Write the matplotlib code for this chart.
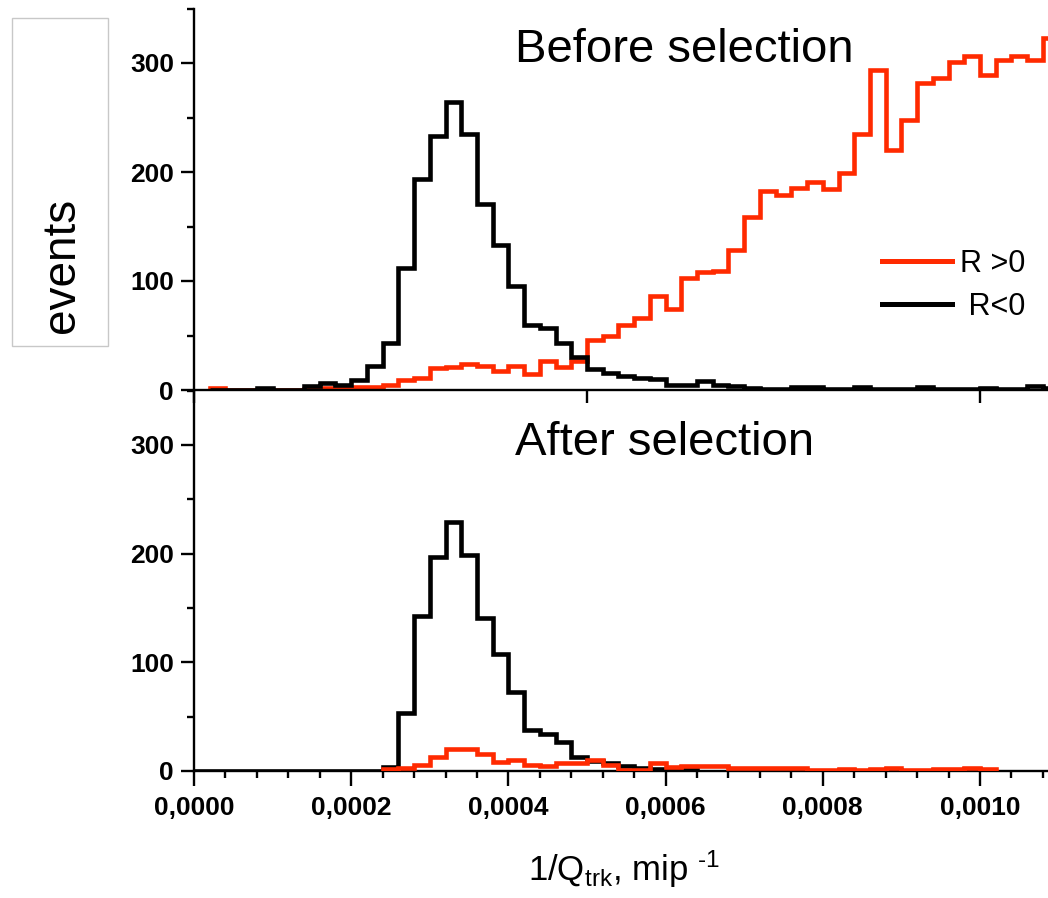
import numpy as np
import matplotlib
matplotlib.use("Agg")
import matplotlib.pyplot as plt
from matplotlib.lines import Line2D
from matplotlib.patches import Rectangle
from matplotlib.ticker import FuncFormatter, MultipleLocator, FixedLocator

plt.rcParams['font.family'] = ['Liberation Sans', 'DejaVu Sans']
plt.rcParams['mathtext.fontset'] = 'custom'
plt.rcParams['mathtext.rm'] = 'Liberation Sans'
plt.rcParams['mathtext.default'] = 'regular'

RED = '#FF2A00'
bin_width = 0.00002

# before selection, bins start at 0.00002
top_start = 0.00002
top_neg = [0, 0, 0, 2, 0, 0, 4, 6, 5, 9, 22, 43, 112, 194, 233, 264, 235, 171,
           133, 95, 60, 57, 43, 30, 19, 16, 13, 11, 10, 5, 5, 8, 5, 4, 2, 1, 1,
           3, 3, 1, 1, 3, 1, 1, 1, 3, 1, 1, 1, 2, 1, 1, 4, 2]
top_pos = [2, 0, 0, 0, 0, 0, 0.5, 1.5, 1.5, 2.5, 2.5, 4.5, 9, 11, 20, 21, 24, 22,
           17, 22, 15, 27, 21, 27, 46, 50, 60, 66, 86, 74, 103, 108, 109, 128,
           159, 183, 179, 185, 191, 184, 199, 235, 294, 220, 248, 282, 286, 301,
           306, 289, 303, 306, 303, 323]

# after selection
bot_neg_start = 0.0
bot_neg = [0, 0, 0, 0, 0, 0, 0, 0, 0, 0, 0, 0, 4, 53, 143, 197, 229, 199, 141,
           108, 73, 38, 34, 27, 13, 9, 7, 5, 2.5, 2, 1.5, 2]
bot_pos_start = 0.00024
bot_pos = [1.5, 3, 5.5, 12.6, 20, 20, 15.6, 8.6, 10, 5.5, 4.6, 7, 7, 10, 5.5, 1,
           1, 7, 4, 4.6, 4.6, 4.6, 2.4, 2.4, 2.4, 2.4, 3, 0.5, 0.5, 2, 0.5, 2,
           2.5, 0.5, 0.5, 1.8, 1.8, 2.8, 1.8]

x_ticks = [0.0, 0.0002, 0.0004, 0.0006, 0.0008, 0.0010]
y_ticks = [0, 100, 200, 300]


def edges(start, n):
    return start + bin_width * np.arange(n + 1)


W, H = 1048, 898
fig = plt.figure(figsize=(W / 100, H / 100), dpi=100)
left = 194 / W
width = 864.6 / W
ax1 = fig.add_axes([left, 1 - 390 / H, width, 381.5 / H])
ax2 = fig.add_axes([left, 1 - 771 / H, width, 380.5 / H])

lw = 3.3
ax1.stairs(top_pos, edges(top_start, len(top_pos)), color=RED, lw=lw, zorder=2)
ax1.stairs(top_neg, edges(top_start, len(top_neg)), color='black', lw=lw, zorder=3)
ax2.stairs(bot_neg, edges(bot_neg_start, len(bot_neg)), color='black', lw=lw, zorder=2)
ax2.stairs(bot_pos, edges(bot_pos_start, len(bot_pos)), color=RED, lw=lw, zorder=3)

for ax in (ax1, ax2):
    ax.set_xlim(0, 0.0011)
    ax.set_ylim(0, 350)
    ax.patch.set_alpha(0)
    for s in ('top', 'right'):
        ax.spines[s].set_visible(False)
    for s in ('left', 'bottom'):
        ax.spines[s].set_linewidth(1.7)
    ax.yaxis.set_major_locator(FixedLocator(y_ticks))
    ax.yaxis.set_minor_locator(MultipleLocator(50))
    ax.tick_params(axis='both', which='major', direction='out', length=9.5, width=1.7,
                   labelsize=19, pad=5)
    ax.tick_params(axis='both', which='minor', direction='out', length=5, width=1.7)
    for lab in ax.get_yticklabels():
        lab.set_fontweight('bold')

ax1.xaxis.set_major_locator(FixedLocator([0, 0.0005, 0.0010]))
ax1.tick_params(axis='x', labelbottom=False)

ax2.xaxis.set_major_locator(FixedLocator(x_ticks))
ax2.xaxis.set_minor_locator(MultipleLocator(0.00004))
ax2.xaxis.set_major_formatter(FuncFormatter(lambda v, p: f'{v:.4f}'.replace('.', ',')))
ax2.tick_params(axis='x', which='major', length=11, pad=7)
for lab in ax2.get_xticklabels():
    lab.set_fontweight('bold')

ax1.text((515 - 194) / 864.6, (390 - 62) / 381.5, 'Before selection', fontsize=34,
         transform=ax1.transAxes, ha='left', va='baseline')
ax2.text((515 - 194) / 864.6, (771 - 455) / 380.5, 'After selection', fontsize=34,
         transform=ax2.transAxes, ha='left', va='baseline')

handles = [Line2D([], [], color=RED, lw=3.6), Line2D([], [], color='black', lw=3.6)]
fig.legend(handles, ['R >0', ' R<0'], loc='upper left',
           bbox_to_anchor=(882 / W, 1 - 249 / H), frameon=False, fontsize=22,
           handlelength=2.3, handletextpad=0.25, labelspacing=0.42,
           borderpad=0, borderaxespad=0)

fig.patches.append(Rectangle((12 / W, 1 - 346 / H), 96 / W, 328 / H,
                             transform=fig.transFigure, fill=False,
                             edgecolor='#c8c8c8', lw=1))
fig.text(62 / W, 1 - 265 / H, 'events', rotation=90, fontsize=33,
         ha='center', va='center')

fig.text(624 / W, 1 - 881 / H, '1/Q$_{trk}$, mip $^{\u2010 1}$', fontsize=25,
         ha='center', va='baseline')

fig.savefig('out.png', dpi=100)
